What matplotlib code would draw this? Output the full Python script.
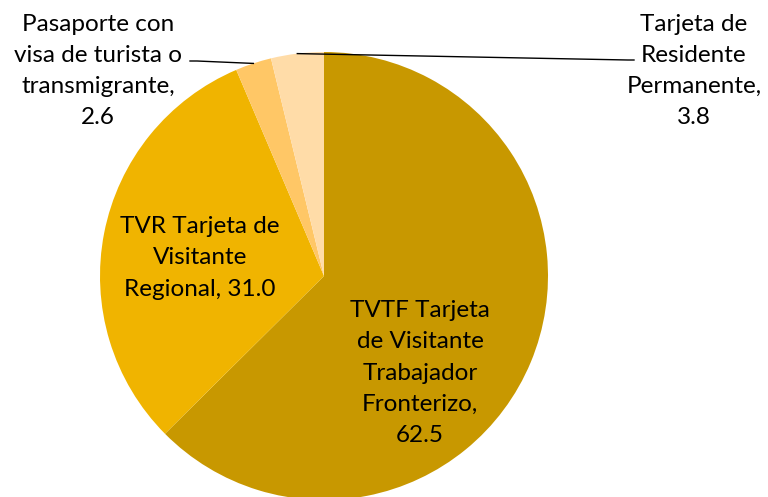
import numpy as np
import matplotlib
matplotlib.use("Agg")
import matplotlib.pyplot as plt

categories = ["TVTF Tarjeta\nde Visitante\nTrabajador\nFronterizo,", "TVR Tarjeta de\nVisitante\nRegional,",
              "Pasaporte con\nvisa de turista o\ntransmigrante,", "Tarjeta de\nResidente\nPermanente,"]
values = [62.5, 31.0, 2.6, 3.8]
colors = ["#C89800", "#F0B400", "#FFC766", "#FFDCA8"]

plt.rcParams['font.family'] = ['Lato', 'DejaVu Sans']
W, H = 768, 497
fig = plt.figure(figsize=(W/100, H/100), dpi=100)
cx, cy, R = 324, 276, 224
ax = fig.add_axes([(cx-R)/W, (H-cy-R)/H, 2*R/W, 2*R/H])
wedges, _ = ax.pie(values, colors=colors, startangle=90, counterclock=False, radius=1,
                   wedgeprops=dict(linewidth=0))
ax.set_xlim(-1, 1); ax.set_ylim(-1, 1)
ax.set_aspect('equal')
ax.axis('off')

def d(px, py):
    return (px-cx)/R, (cy-py)/R

fs = 17.5
ls = 1.6
labels = [f"{c} {v:.1f}" if i == 1 else f"{c}\n{v:.1f}" for i, (c, v) in enumerate(zip(categories, values))]
pos = [d(420, 373), d(200, 258), d(98, 71), d(694, 71)]
for lab, p in zip(labels, pos):
    ax.text(p[0], p[1], lab, ha='center', va='center', fontsize=fs, linespacing=ls,
            color='black', clip_on=False)

# leader lines from wedge midpoints
def mid(w):
    a = np.deg2rad((w.theta1 + w.theta2) / 2)
    return np.cos(a), np.sin(a)

m2 = mid(wedges[2])
x0, y0 = d(190, 61)
x1, _ = d(197, 61)
ax.plot([x0, x1, m2[0]], [y0, y0, m2[1]], color='black', lw=1, clip_on=False)
m3 = mid(wedges[3])
x0, y0 = d(634, 60)
x1, _ = d(628, 60)
ax.plot([x0, x1, m3[0]], [y0, y0, m3[1]], color='black', lw=1, clip_on=False)

fig.savefig("out.png", dpi=100)
